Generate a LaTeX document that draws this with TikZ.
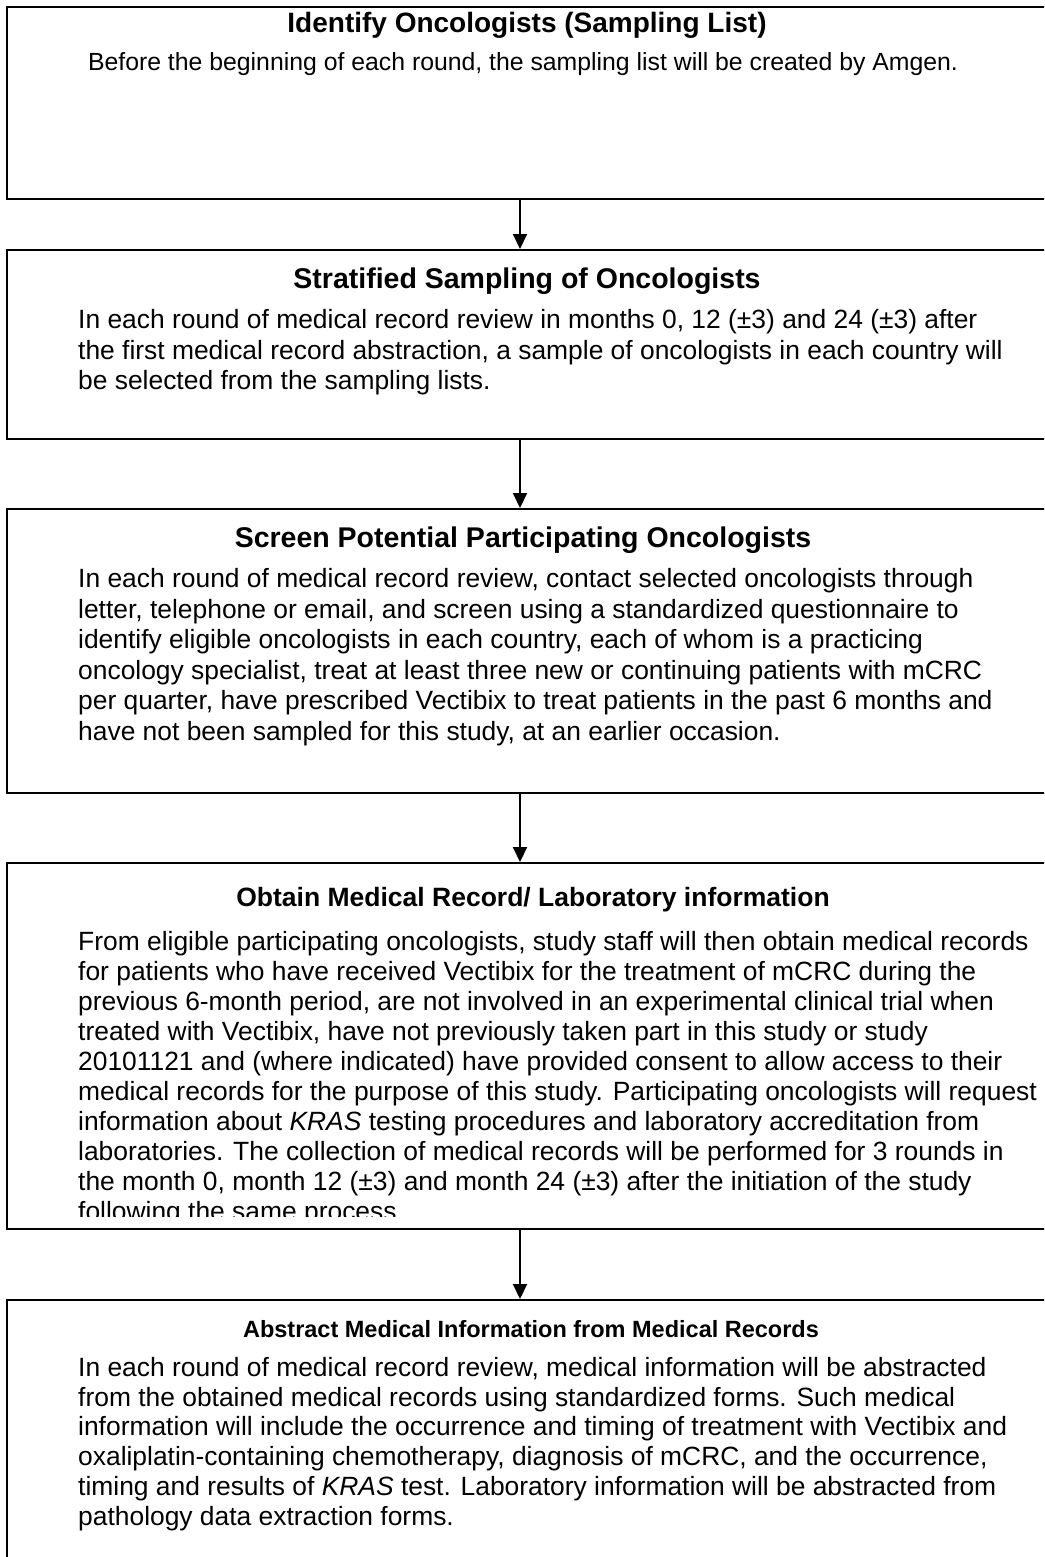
\documentclass[tikz,border=0pt]{standalone}
\usepackage{fontspec}
\setmainfont{Liberation Sans}
\usetikzlibrary{arrows.meta}
\begin{document}
\begin{tikzpicture}[x=1pt,y=-1pt,
 box/.style={draw=black,line width=2pt,rectangle,anchor=north west,inner sep=0pt,minimum width=1070pt},
 arr/.style={line width=2pt,-{Triangle[width=14pt,length=15pt]}},
 ttl/.style={font=\fontsize{28.5}{34}\selectfont\bfseries,anchor=base,inner sep=0pt},
 body/.style={font=\fontsize{26.4}{30.5}\selectfont,anchor=north west,inner sep=0pt,align=left},
 bodyc/.style={font=\fontsize{24.8}{29}\selectfont,anchor=base,inner sep=0pt},
]
\useasboundingbox (0,0) rectangle (1044,1557);
\clip (0,0) rectangle (1044,1557);
\fill[white] (0,0) rectangle (1044,1557);
\coordinate (ax) at (520,0);

% boxes
\node[box,minimum height=192pt] (b1) at (6,6) {};
\node[box,minimum height=189pt] (b2) at (6,249) {};
\node[box,minimum height=284pt] (b3) at (6,508) {};
\node[box,minimum height=366pt] (b4) at (6,862) {};
\node[box,minimum height=320pt] (b5) at (6,1299) {};

% box 1
\node[ttl,font=\fontsize{28}{34}\selectfont\bfseries] (t1) at (527,33) {Identify Oncologists (Sampling List)};
\node[bodyc] (x1) at (523,71) {Before the beginning of each round, the sampling list will be created by Amgen.};

% box 2
\node[ttl] (t2) at (527,288.5) {Stratified Sampling of Oncologists};
\node[body] (x2) at (78,306.3) {\rule{0pt}{22pt}In each round of medical record review in months 0, 12 (±3) and 24 (±3) after\\
the first medical record abstraction, a sample of oncologists in each country will\\
be selected from the sampling lists.};

% box 3
\node[ttl] (t3) at (523,547.5) {Screen Potential Participating Oncologists};
\node[body] (x3) at (78,565.3) {\rule{0pt}{22pt}In each round of medical record review, contact selected oncologists through\\
letter, telephone or email, and screen using a standardized questionnaire to\\
identify eligible oncologists in each country, each of whom is a practicing\\
oncology specialist, treat at least three new or continuing patients with mCRC\\
per quarter, have prescribed Vectibix to treat patients in the past 6 months and\\
have not been sampled for this study, at an earlier occasion.};

% box 4
\node[ttl,font=\fontsize{26.5}{32}\selectfont\bfseries] (t4) at (533,906) {Obtain Medical Record/ Laboratory information};
\begin{scope}
\clip (6,862) rectangle (1070,1216);
\node[body,font=\fontsize{26.4}{30}\selectfont] (x4) at (78,928.5) {\rule{0pt}{22pt}From eligible participating oncologists, study staff will then obtain medical records\\
for patients who have received Vectibix for the treatment of mCRC during the\\
previous 6-month period, are not involved in an experimental clinical trial when\\
treated with Vectibix, have not previously taken part in this study or study\\
20101121 and (where indicated) have provided consent to allow access to their\\
medical records for the purpose of this study. Participating oncologists will request\\
information about \textit{KRAS} testing procedures and laboratory accreditation from\\
laboratories. The collection of medical records will be performed for 3 rounds in\\
the month 0, month 12 (±3) and month 24 (±3) after the initiation of the study\\
following the same process};
\end{scope}

% box 5
\node[ttl,font=\fontsize{23.5}{28}\selectfont\bfseries] (t5) at (531,1337) {Abstract Medical Information from Medical Records};
\node[body,font=\fontsize{26.4}{29.8}\selectfont] (x5) at (78,1354) {\rule{0pt}{22pt}In each round of medical record review, medical information will be abstracted\\
from the obtained medical records using standardized forms. Such medical\\
information will include the occurrence and timing of treatment with Vectibix and\\
oxaliplatin-containing chemotherapy, diagnosis of mCRC, and the occurrence,\\
timing and results of \textit{KRAS} test. Laboratory information will be abstracted from\\
pathology data extraction forms.};

% connectors
\draw[arr] (b1.south -| ax) -- (b2.north -| ax);
\draw[arr] (b2.south -| ax) -- (b3.north -| ax);
\draw[arr] (b3.south -| ax) -- (b4.north -| ax);
\draw[arr] (b4.south -| ax) -- (b5.north -| ax);
\end{tikzpicture}
\end{document}
